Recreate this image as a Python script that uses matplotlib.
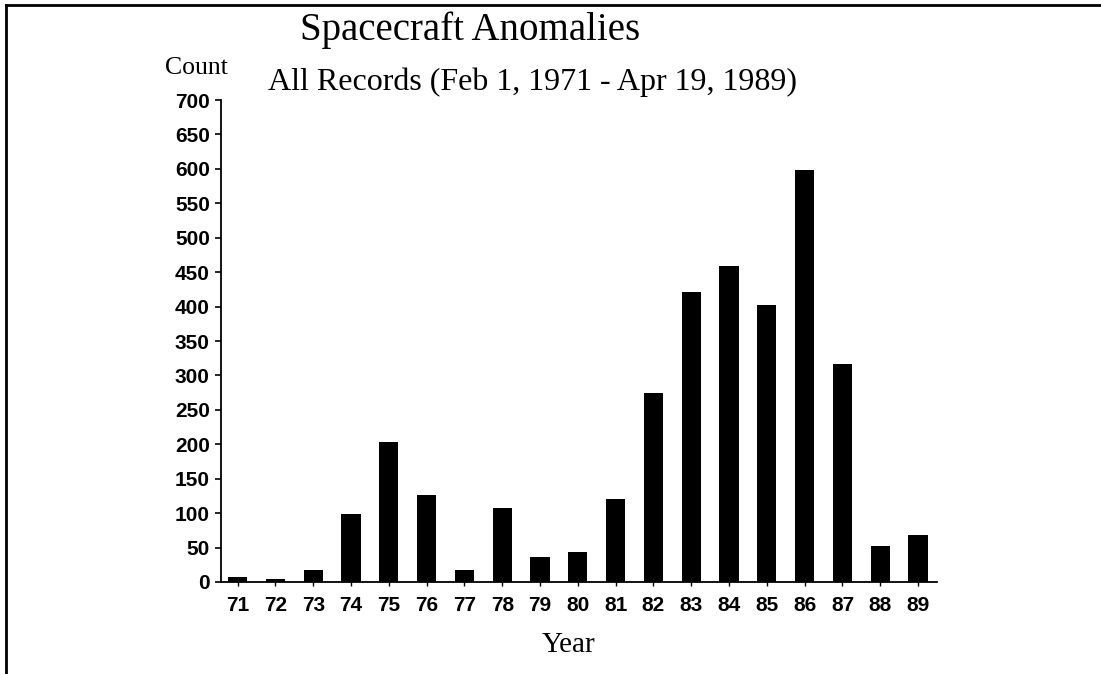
import matplotlib
matplotlib.use("Agg")
from matplotlib import pyplot as plt
from matplotlib.lines import Line2D

# counts per year
years = ['71', '72', '73', '74', '75', '76', '77', '78', '79', '80',
         '81', '82', '83', '84', '85', '86', '87', '88', '89']
counts = [7, 4, 17, 99, 204, 126, 18, 107, 36, 43,
          121, 275, 421, 459, 402, 598, 317, 52, 68]
yticks = list(range(0, 701, 50))

fig = plt.figure(figsize=(11.01, 6.74), dpi=100)
ax = fig.add_axes([0.2007, 0.1365, 0.6503, 0.7151])

x = list(range(len(years)))
ax.bar(x, counts, width=0.51, color='black')

ax.set_xlim(-0.44, len(years) - 0.5)
ax.set_ylim(0, 700)
ax.set_yticks(yticks)
ax.set_xticks(x)
ax.set_xticklabels(years)

for s in ['top', 'right']:
    ax.spines[s].set_visible(False)
for s in ['left', 'bottom']:
    ax.spines[s].set_linewidth(1.3)

sans = 'Liberation Sans'
serif = 'Liberation Serif'
ax.tick_params(axis='y', direction='out', length=4, width=1.2, pad=4)
ax.tick_params(axis='x', direction='out', length=3, width=1.0, pad=7)
for lab in ax.get_yticklabels() + ax.get_xticklabels():
    lab.set_fontfamily(sans)
    lab.set_fontsize(15)
    lab.set_fontweight('bold')

fig.text(0.427, 0.955, 'Spacecraft Anomalies', family=serif, fontsize=28,
         ha='center', va='center')
fig.text(0.178, 0.899, 'Count', family=serif, fontsize=18.5,
         ha='center', va='center')
fig.text(0.243, 0.878, 'All Records (Feb 1, 1971 - Apr 19, 1989)', family=serif,
         fontsize=23, ha='left', va='center')
fig.text(0.516, 0.043, 'Year', family=serif, fontsize=21,
         ha='center', va='center')

# page frame: top and left edges
fig.add_artist(Line2D([0.0054, 1.0], [0.9926, 0.9926], color='black', lw=2,
                      transform=fig.transFigure))
fig.add_artist(Line2D([0.0054, 0.0054], [0.0, 0.9926], color='black', lw=2,
                      transform=fig.transFigure))

fig.savefig('out.png', dpi=100, facecolor='white')
